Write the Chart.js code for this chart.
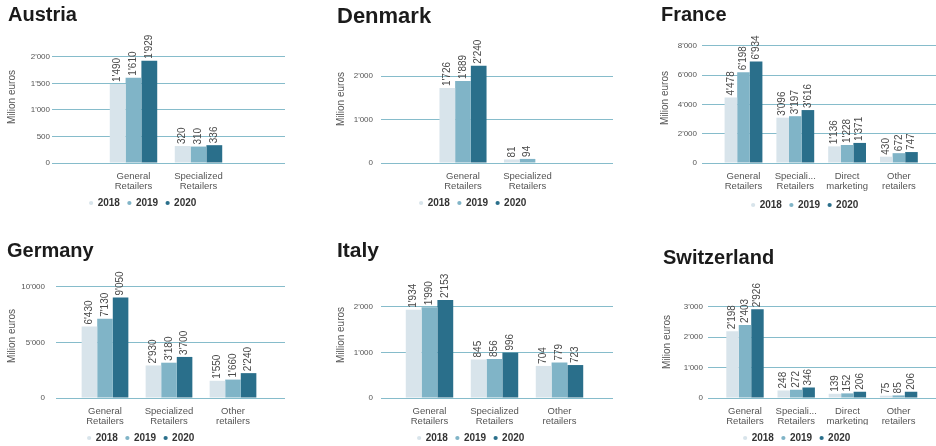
<!DOCTYPE html>
<html>
<head>
<meta charset="utf-8">
<script src="https://cdn.jsdelivr.net/npm/chart.js@4.4.1/dist/chart.umd.min.js"></script>
<style>
  html, body { margin: 0; padding: 0; background: #fff; width: 936px; height: 446px; overflow: hidden; position: relative;
               font-family: "Liberation Sans", Arial, sans-serif; }
  .ttl { position: absolute; font-weight: bold; font-size: 20px; line-height: 20px; color: #1b1b1b; white-space: nowrap; z-index: 2; }
  canvas { position: absolute; }
</style>
</head>
<body>
<div class="ttl" style="left:8px;top:4px;">Austria</div>
<div class="ttl" style="left:337px;top:5px;font-size:22px;line-height:22px;">Denmark</div>
<div class="ttl" style="left:661px;top:4px;">France</div>
<div class="ttl" style="left:7px;top:240px;">Germany</div>
<div class="ttl" style="left:337px;top:239px;font-size:21px;line-height:21px;">Italy</div>
<div class="ttl" style="left:663px;top:247px;">Switzerland</div>

<canvas id="austria"></canvas>
<canvas id="denmark"></canvas>
<canvas id="france"></canvas>
<canvas id="germany"></canvas>
<canvas id="italy"></canvas>
<canvas id="switzerland"></canvas>

<script>
// ---- data (million euros) ----
const years = ['2018', '2019', '2020'];

const austriaCategories = [['General', 'Retailers'], ['Specialized', 'Retailers']];
const austria2018 = [1490, 320];
const austria2019 = [1610, 310];
const austria2020 = [1929, 336];
const austriaTicks = [0, 500, 1000, 1500, 2000];

const denmarkCategories = [['General', 'Retailers'], ['Specialized', 'Retailers']];
const denmark2018 = [1726, 81];
const denmark2019 = [1889, 94];
const denmark2020 = [2240, null];
const denmarkTicks = [0, 1000, 2000];

const franceCategories = [['General', 'Retailers'], ['Speciali...', 'Retailers'], ['Direct', 'marketing'], ['Other', 'retailers']];
const france2018 = [4478, 3096, 1136, 430];
const france2019 = [6198, 3197, 1228, 672];
const france2020 = [6934, 3616, 1371, 747];
const franceTicks = [0, 2000, 4000, 6000, 8000];

const germanyCategories = [['General', 'Retailers'], ['Specialized', 'Retailers'], ['Other', 'retailers']];
const germany2018 = [6430, 2930, 1550];
const germany2019 = [7130, 3180, 1660];
const germany2020 = [9050, 3700, 2240];
const germanyTicks = [0, 5000, 10000];

const italyCategories = [['General', 'Retailers'], ['Specialized', 'Retailers'], ['Other', 'retailers']];
const italy2018 = [1934, 845, 704];
const italy2019 = [1990, 856, 779];
const italy2020 = [2153, 996, 723];
const italyTicks = [0, 1000, 2000];

const switzerlandCategories = [['General', 'Retailers'], ['Speciali...', 'Retailers'], ['Direct', 'marketing'], ['Other', 'retailers']];
const switzerland2018 = [2198, 248, 139, 75];
const switzerland2019 = [2403, 272, 152, 85];
const switzerland2020 = [2926, 346, 206, 206];
const switzerlandTicks = [0, 1000, 2000, 3000];

// ---- styling ----
const FONT = '"Liberation Sans", Arial, sans-serif';
const BAR_COLORS = ['#d8e4eb', '#80b4c7', '#2a6f8b'];
const GRID_COLOR = '#86bccb';
const TEXT_GREY = '#555555';

// thousands separator as an apostrophe: 1490 -> 1'490
const fmt = v => String(v).replace(/\B(?=(\d{3})+(?!\d))/g, "'");

// value written vertically just above each bar
const barValueLabels = {
  id: 'barValueLabels',
  afterDatasetsDraw(chart) {
    const ctx = chart.ctx;
    ctx.save();
    ctx.font = '10px ' + FONT;
    ctx.fillStyle = '#4a4a4a';
    ctx.textAlign = 'left';
    ctx.textBaseline = 'middle';
    chart.data.datasets.forEach((ds, i) => {
      const meta = chart.getDatasetMeta(i);
      meta.data.forEach((bar, j) => {
        const v = ds.data[j].y;
        if (v === null || v === undefined) return;
        ctx.save();
        ctx.translate(bar.x, bar.y - 2);
        ctx.rotate(-Math.PI / 2);
        ctx.fillText(fmt(v), 0, 0);
        ctx.restore();
      });
    });
    ctx.restore();
  }
};

// one small grouped bar chart per country
function drawPanel(id, cats, series, ticks, L) {
  const cv = document.getElementById(id);
  const LEGEND_H = 28;
  const canvasLeft = Math.min(2 * L.legendMid - L.plotRight, L.titleX - 7);
  const canvasRight = 2 * L.legendMid - canvasLeft;
  const W = canvasRight - canvasLeft;
  const H = L.legendTop + LEGEND_H - L.canvasTop;
  const rightGap = canvasRight - L.plotRight;
  cv.width = W; cv.height = H;
  cv.style.left = canvasLeft + 'px';
  cv.style.top = L.canvasTop + 'px';
  cv.style.width = W + 'px';
  cv.style.height = H + 'px';

  new Chart(cv, {
    type: 'bar',
    data: {
      datasets: series.map((vals, k) => ({
        label: years[k],
        data: vals.map((v, i) => ({ x: i, y: v })),
        backgroundColor: BAR_COLORS[k],
        borderWidth: 0,
        categoryPercentage: 0.73,
        barPercentage: 1
      }))
    },
    options: {
      responsive: false,
      animation: false,
      devicePixelRatio: 1,
      events: [],
      layout: { padding: { left: 0, right: 0, top: L.plotTop - L.canvasTop, bottom: 0 } },
      plugins: {
        tooltip: { enabled: false },
        legend: {
          display: true,
          position: 'bottom',
          align: 'center',
          labels: {
            usePointStyle: true, pointStyle: 'circle',
            boxWidth: 3, boxHeight: 3, padding: 8,
            color: '#333333',
            font: { size: 10, weight: 'bold', family: FONT }
          }
        }
      },
      scales: {
        x: {
          type: 'linear',
          offset: false,
          min: (L.plotLeft - L.firstCenter) / L.spacing,
          max: (L.plotRight - L.firstCenter) / L.spacing,
          afterBuildTicks: ax => { ax.ticks = cats.map((c, i) => ({ value: i })); },
          afterFit: ax => { ax.height = L.legendTop - L.zeroY; },
          grid: { display: false, drawTicks: false },
          border: { display: false },
          ticks: {
            autoSkip: false, maxRotation: 0, minRotation: 0, padding: 8,
            color: TEXT_GREY,
            font: { size: 9.5, family: FONT, lineHeight: 1.1 },
            callback: v => cats[v]
          }
        },
        y: {
          type: 'linear',
          position: 'left',
          min: 0,
          max: L.yMax,
          afterBuildTicks: ax => { ax.ticks = ticks.map(v => ({ value: v })); },
          afterFit: ax => { ax.width = L.plotLeft - canvasLeft; },
          grid: { color: GRID_COLOR, lineWidth: 1, drawTicks: false },
          border: { display: false },
          ticks: {
            padding: L.tickPad,
            color: TEXT_GREY,
            font: { size: 8, family: FONT },
            callback: v => fmt(v)
          },
          title: {
            display: true,
            text: L.yTitle,
            color: TEXT_GREY,
            font: { size: 10, family: FONT, lineHeight: 1.2 },
            padding: { top: L.titleX - canvasLeft - 6, bottom: 0 }
          }
        },
        yR: {
          type: 'linear',
          position: 'right',
          display: true,
          grid: { display: false, drawTicks: false },
          border: { display: false },
          ticks: { display: false },
          afterFit: ax => { ax.width = rightGap; }
        }
      }
    },
    plugins: [barValueLabels]
  });
}

drawPanel('austria', austriaCategories, [austria2018, austria2019, austria2020], austriaTicks, {
  canvasTop: 10, plotTop: 31, zeroY: 163, legendTop: 190, yMax: 2490,
  plotLeft: 52, plotRight: 285, firstCenter: 133.5, spacing: 65,
  legendMid: 143, titleX: 12.7, tickPad: 2, yTitle: 'Milion euros'
});
drawPanel('denmark', denmarkCategories, [denmark2018, denmark2019, denmark2020], denmarkTicks, {
  canvasTop: 10, plotTop: 35, zeroY: 163, legendTop: 190, yMax: 2950,
  plotLeft: 381, plotRight: 613, firstCenter: 463, spacing: 64.5,
  legendMid: 473, titleX: 341, tickPad: 8, yTitle: 'Milion euros'
});
drawPanel('france', franceCategories, [france2018, france2019, france2020], franceTicks, {
  canvasTop: 10, plotTop: 33, zeroY: 163, legendTop: 192, yMax: 8880,
  plotLeft: 702, plotRight: 936, firstCenter: 743.5, spacing: 51.8,
  legendMid: 805, titleX: 665, tickPad: 5, yTitle: 'Milion euros'
});
drawPanel('germany', germanyCategories, [germany2018, germany2019, germany2020], germanyTicks, {
  canvasTop: 250, plotTop: 274, zeroY: 398, legendTop: 425, yMax: 11170,
  plotLeft: 56, plotRight: 285, firstCenter: 105, spacing: 64,
  legendMid: 141, titleX: 12, tickPad: 11, yTitle: 'Milion euros'
});
drawPanel('italy', italyCategories, [italy2018, italy2019, italy2020], italyTicks, {
  canvasTop: 250, plotTop: 272, zeroY: 398, legendTop: 425, yMax: 2765,
  plotLeft: 381, plotRight: 613, firstCenter: 429.5, spacing: 65,
  legendMid: 471, titleX: 341, tickPad: 8, yTitle: 'Million euros'
});
drawPanel('switzerland', switzerlandCategories, [switzerland2018, switzerland2019, switzerland2020], switzerlandTicks, {
  canvasTop: 250, plotTop: 286, zeroY: 398, legendTop: 425, yMax: 3690,
  plotLeft: 708, plotRight: 936, firstCenter: 745, spacing: 51.2,
  legendMid: 797, titleX: 667, tickPad: 5, yTitle: 'Milion euros'
});
</script>
</body>
</html>
